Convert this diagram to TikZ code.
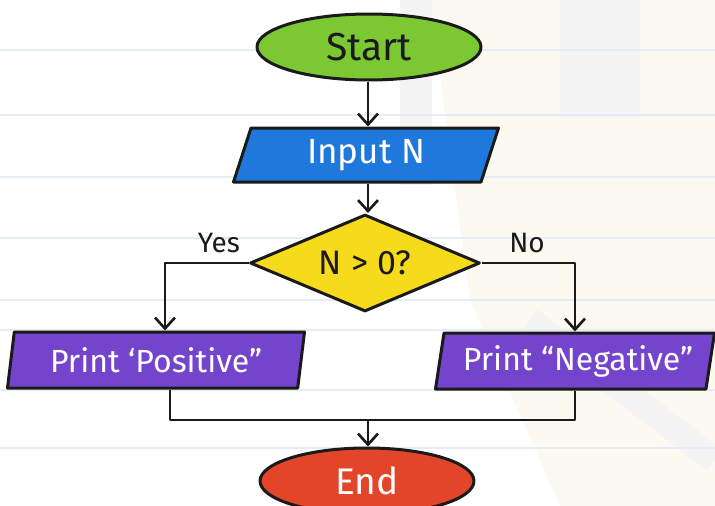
\documentclass[tikz,border=0pt]{standalone}
\usepackage{fontspec}
\setmainfont{Fira Sans}
\usetikzlibrary{shapes.geometric,arrows.meta,calc}

\definecolor{paperline}{HTML}{E6ECF7}
\definecolor{cream}{HTML}{FCF9F1}
\definecolor{smudge}{HTML}{F4F4F4}
\definecolor{startgreen}{HTML}{7CC832}
\definecolor{inputblue}{HTML}{1F78DC}
\definecolor{decyellow}{HTML}{F6DA1C}
\definecolor{printpurple}{HTML}{7444CC}
\definecolor{endred}{HTML}{E2452A}
\definecolor{ink}{HTML}{1A1A1A}

\tikzset{
  outline/.style={draw=ink, line width=3pt, line join=round},
  terminal/.style={outline, ellipse, inner sep=0pt},
  iobox/.style={outline, trapezium, trapezium stretches body, inner sep=0pt},
  decision/.style={outline, diamond, inner sep=-16pt},
  flow/.style={draw=ink, line width=2.8pt, line join=round},
  arr/.style={flow, -{Straight Barb[length=11pt,width=20pt,line width=2.6pt]}},
  darktext/.style={text=ink},
  lighttext/.style={text=white},
  branchlabel/.style={text=ink, font=\fontsize{28}{32}\selectfont, inner sep=0pt}
}

\begin{document}
\begin{tikzpicture}[x=1pt, y=-1pt]
  \useasboundingbox (0,0) rectangle (715,506);

  % paper background
  \fill[white] (0,0) rectangle (715,506);
  \fill[cream] (430,0) -- (715,0) -- (715,506) -- (560,506) -- (470,300) -- cycle;
  \fill[smudge] (400,0) rectangle (432,185);
  \fill[smudge] (560,0) rectangle (640,118);
  \draw[smudge, line width=26pt] (530,320) -- (715,460);
  \foreach \yy in {50,115,177,238,300,330,390,448}
    \draw[paperline, line width=1.2pt] (0,\yy) -- (715,\yy);

  % shapes
  \node[terminal, fill=startgreen, minimum width=224pt, minimum height=66pt, darktext,
        font=\fontsize{39}{42}\selectfont] (start) at (369,47) {Start};
  \node[iobox, fill=inputblue, trapezium left angle=61, trapezium right angle=119,
        minimum width=265pt, minimum height=54pt, lighttext,
        font=\fontsize{35}{38}\selectfont] (input) at (366,155) {Input N};
  \node[decision, fill=decyellow, minimum width=230pt, minimum height=97pt, darktext,
        font=\fontsize{34}{38}\selectfont] (dec) at (365,263) {N > 0?};
  \node[iobox, fill=printpurple, trapezium left angle=75, trapezium right angle=105,
        minimum width=297pt, minimum height=56pt, lighttext,
        font=\fontsize{32}{36}\selectfont] (pos) at (156,360) {Print ‘Positive”};
  \node[iobox, fill=printpurple, trapezium left angle=75, trapezium right angle=105,
        minimum width=279pt, minimum height=56pt, lighttext,
        font=\fontsize{32}{36}\selectfont] (neg) at (575,361) {\hspace*{6pt}Print “Negative”};
  \node[terminal, fill=endred, minimum width=214pt, minimum height=66pt, lighttext,
        font=\fontsize{37}{40}\selectfont] (end) at (367,481) {End};

  % routing points
  \coordinate (trunk) at (368,0);
  \coordinate (posin) at (165,0);
  \coordinate (negin) at (575,0);
  \coordinate (posout) at (170,0);
  \coordinate (negout) at (575,0);
  \coordinate (join) at (368,420);

  % connectors
  \draw[arr] (trunk |- start.south) -- (trunk |- input.north);
  \draw[arr] (trunk |- input.south) -- (trunk |- dec.north);
  \draw[arr] (dec.west) -| (posin |- pos.north);
  \draw[arr] (dec.east) -| (negin |- neg.north);
  \draw[flow] (posout |- pos.south) |- (join);
  \draw[flow] (negout |- neg.south) |- (join);
  \draw[arr] (join) -- (trunk |- end.north);

  % branch labels
  \node[branchlabel] (yes) at (219,243) {Yes};
  \node[branchlabel] (no) at (527,243) {No};
\end{tikzpicture}
\end{document}
